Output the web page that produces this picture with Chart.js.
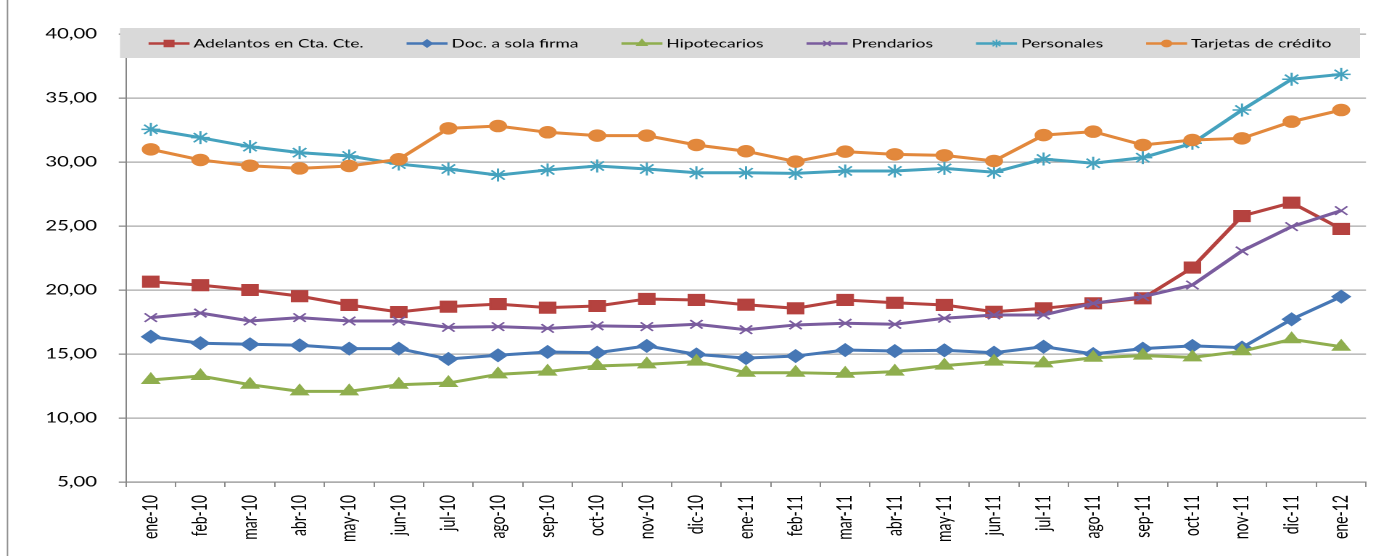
<!DOCTYPE html>
<html>
<head>
<meta charset="utf-8">
<script src="https://cdn.jsdelivr.net/npm/chart.js@4/dist/chart.umd.min.js"></script>
<style>
  body { margin: 0; background: #fff; }
  #wrap { width: 1397px; height: 556px; position: relative; }
</style>
</head>
<body>
<div id="wrap">
  <!-- the original picture is stretched sideways, so the canvas is drawn narrow and widened by CSS -->
  <canvas id="tasasChart" width="963" height="556" style="width:1397px;height:556px;"></canvas>
</div>
<script>
const meses = ["ene-10", "feb-10", "mar-10", "abr-10", "may-10", "jun-10", "jul-10", "ago-10", "sep-10",
    "oct-10", "nov-10", "dic-10", "ene-11", "feb-11", "mar-11", "abr-11", "may-11", "jun-11", "jul-11",
    "ago-11", "sep-11", "oct-11", "nov-11", "dic-11", "ene-12"];

const adelantos = [20.65, 20.38, 20.00, 19.52, 18.83, 18.28, 18.70, 18.90, 18.62, 18.75, 19.30, 19.22, 18.85,
    18.57, 19.22, 19.00, 18.83, 18.30, 18.57, 18.96, 19.35, 21.75, 25.78, 26.82, 24.77];
const docFirma = [16.35, 15.84, 15.76, 15.68, 15.42, 15.42, 14.61, 14.90, 15.16, 15.10, 15.63, 14.97, 14.68,
    14.84, 15.31, 15.23, 15.29, 15.10, 15.57, 15.00, 15.42, 15.63, 15.50, 17.71, 19.48];
const hipotecarios = [12.97, 13.28, 12.60, 12.08, 12.08, 12.60, 12.73, 13.41, 13.62, 14.06, 14.19, 14.40, 13.54,
    13.54, 13.46, 13.62, 14.09, 14.40, 14.27, 14.71, 14.87, 14.74, 15.21, 16.15, 15.57];
const prendarios = [17.84, 18.20, 17.58, 17.84, 17.58, 17.58, 17.08, 17.14, 17.00, 17.20, 17.14, 17.32, 16.90,
    17.27, 17.40, 17.32, 17.79, 18.05, 18.05, 18.96, 19.48, 20.39, 23.05, 24.95, 26.20];
const personales = [32.55, 31.90, 31.20, 30.73, 30.47, 29.84, 29.45, 28.98, 29.38, 29.69, 29.45, 29.16, 29.16,
    29.11, 29.30, 29.30, 29.50, 29.20, 30.23, 29.90, 30.34, 31.46, 34.06, 36.46, 36.85];
const tarjetas = [30.99, 30.16, 29.71, 29.50, 29.69, 30.21, 32.63, 32.81, 32.32, 32.06, 32.06, 31.33, 30.84,
    30.03, 30.81, 30.60, 30.52, 30.08, 32.10, 32.37, 31.33, 31.72, 31.85, 33.15, 34.06];

const STRETCH = 1397 / 963; // ancho visible / ancho del canvas

function serie(label, data, color, style, radius) {
    return {
        label: label,
        data: data,
        borderColor: color,
        backgroundColor: color,
        pointBackgroundColor: color,
        pointBorderColor: color,
        pointStyle: style,
        pointRadius: radius,
        pointBorderWidth: 1.5,
        borderWidth: 3,
        tension: 0,
        fill: false
    };
}

let datasets = [
    serie("Adelantos en Cta. Cte.", adelantos, "#B5423F", "rect", 7.5),
    serie("Doc. a sola firma", docFirma, "#4677B5", "rectRot", 6),
    serie("Hipotecarios", hipotecarios, "#8FAE4E", "triangle", 6.5),
    serie("Prendarios", prendarios, "#7A5C9E", "crossRot", 6),
    serie("Personales", personales, "#45A2BE", "star", 6.5),
    serie("Tarjetas de crédito", tarjetas, "#E2883C", "circle", 5.5)
];
// Excel dibuja la última serie arriba
datasets.forEach((d, i) => { d.order = datasets.length - i; });

// marco izquierdo + leyenda gris encima del área de trazado
const marcoLeyenda = {
    id: 'marcoLeyenda',
    beforeDraw(chart) {
        const ctx = chart.ctx;
        ctx.save();
        ctx.strokeStyle = '#8c8c8c';
        ctx.lineWidth = 1;
        ctx.beginPath();
        ctx.moveTo(7.5 / STRETCH, 0);
        ctx.lineTo(7.5 / STRETCH, chart.height);
        ctx.stroke();
        ctx.restore();
    },
    afterDraw(chart) {
        const ctx = chart.ctx;
        const sx = 1 / STRETCH;
        const boxL = 120 * sx, boxR = 1360 * sx, boxT = 28, boxB = 58;
        ctx.save();
        ctx.fillStyle = '#d9d9d9';
        ctx.fillRect(boxL, boxT, boxR - boxL, boxB - boxT);

        ctx.font = '12px Lato';
        ctx.textBaseline = 'middle';
        ctx.textAlign = 'left';
        const lineLen = 41 * sx, textGap = 4 * sx, itemGap = 43 * sx;
        const items = chart.data.datasets;
        const widths = items.map(d => ctx.measureText(d.label).width);
        const total = widths.reduce((a, b) => a + b, 0) + items.length * (lineLen + textGap) + (items.length - 1) * itemGap;
        let x = (boxL + boxR) / 2 - total / 2;
        const y = (boxT + boxB) / 2 + 0.5;

        items.forEach((d, i) => {
            ctx.strokeStyle = d.borderColor;
            ctx.fillStyle = d.borderColor;
            ctx.lineWidth = 2.5;
            ctx.beginPath();
            ctx.moveTo(x, y);
            ctx.lineTo(x + lineLen, y);
            ctx.stroke();
            ctx.lineWidth = 1.2;
            if (Chart.helpers && Chart.helpers.drawPoint) {
                Chart.helpers.drawPoint(ctx, { pointStyle: d.pointStyle, radius: d.pointRadius * 0.6, borderWidth: 1.2, rotation: 0 }, x + lineLen / 2, y);
            }
            ctx.fillStyle = '#000';
            ctx.fillText(d.label, x + lineLen + textGap, y);
            x += lineLen + textGap + widths[i] + itemGap;
        });
        ctx.restore();
    }
};

let ctx = document.getElementById('tasasChart').getContext('2d');
let chart = new Chart(ctx, {
    type: 'line',
    data: { labels: meses, datasets: datasets },
    options: {
        responsive: false,
        maintainAspectRatio: false,
        devicePixelRatio: 2,
        animation: false,
        layout: { padding: { left: 0, top: 34, right: 963 - 1366 / STRETCH, bottom: 0 } },
        plugins: {
            legend: { display: false },
            tooltip: { enabled: false }
        },
        scales: {
            y: {
                min: 5,
                max: 40,
                afterFit: s => { s.width = 126 / STRETCH; },
                ticks: {
                    stepSize: 5,
                    color: '#000',
                    padding: 15,
                    font: { family: 'Lato', size: 14 },
                    callback: v => v.toFixed(2).replace('.', ',')
                },
                grid: { color: '#a8a8a8', lineWidth: 1.3, tickLength: 5, tickColor: '#8c8c8c' },
                border: { color: '#868686', width: 1 }
            },
            x: {
                offset: true,
                afterFit: s => { s.height = 74; },
                ticks: {
                    autoSkip: false,
                    minRotation: 90,
                    maxRotation: 90,
                    padding: 8,
                    color: '#000',
                    font: { family: 'Lato', size: 14 }
                },
                grid: { offset: true, drawOnChartArea: false, drawTicks: true, tickLength: 5, tickColor: '#8c8c8c' },
                border: { color: '#868686', width: 1 }
            }
        }
    },
    plugins: [marcoLeyenda]
});
</script>
</body>
</html>
